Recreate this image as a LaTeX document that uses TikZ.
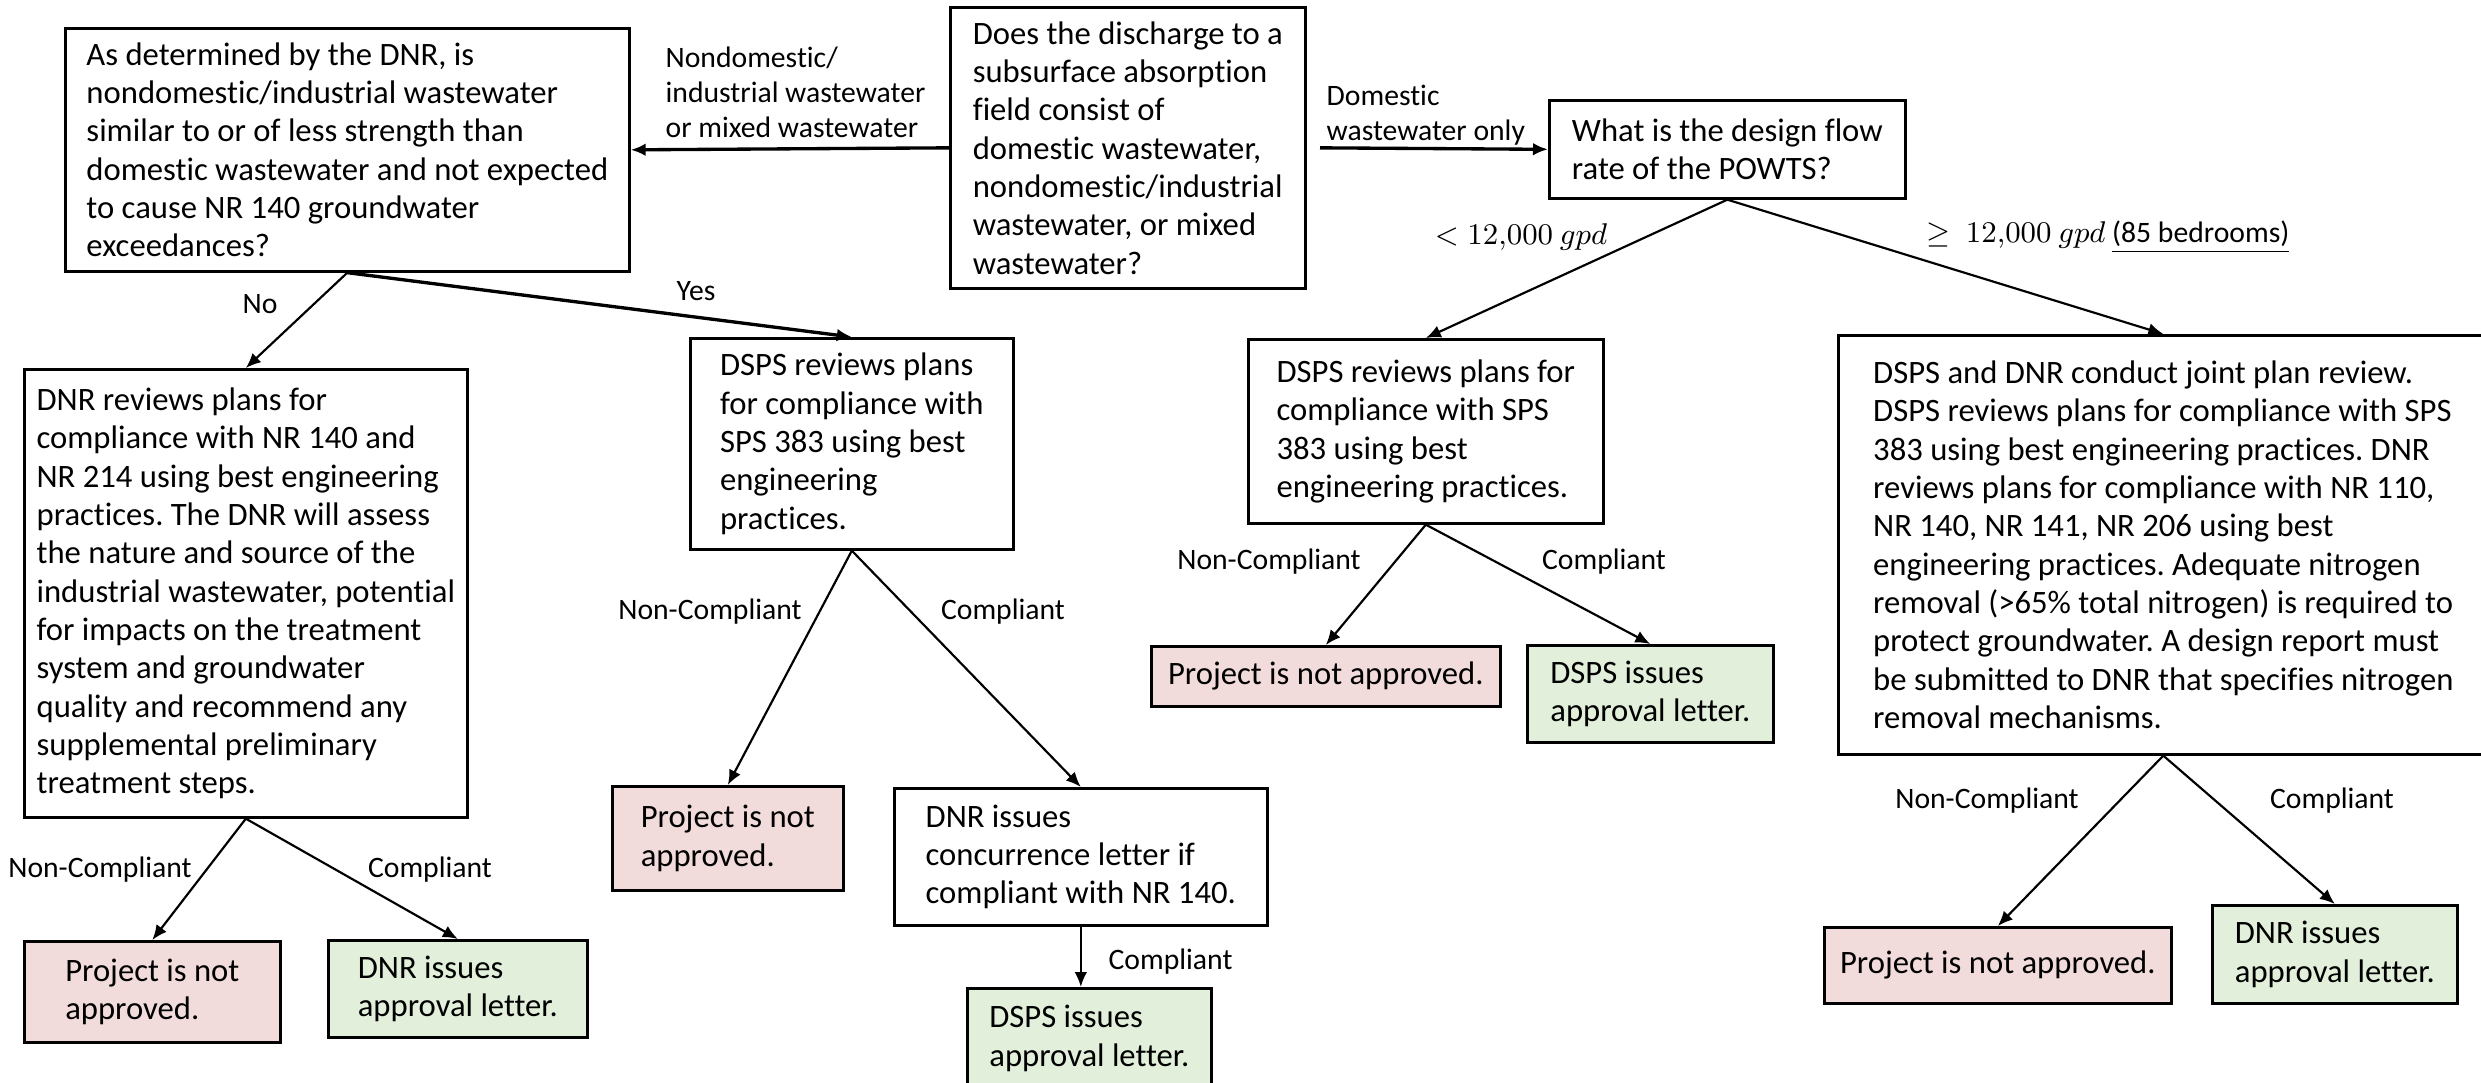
\documentclass[tikz,border=0pt]{standalone}
\usepackage{fontspec}
\setmainfont{Carlito}[Ligatures=NoCommon]
\usetikzlibrary{arrows.meta}
\frenchspacing

\definecolor{nogofill}{RGB}{242,220,219}
\definecolor{okfill}{RGB}{226,239,218}
\newcommand\boxfont{\fontsize{9.8}{11.5}\selectfont}
\newcommand\lblfont{\fontsize{8.9}{10.5}\selectfont}

\tikzset{
  box/.style={draw, line width=0.8pt, align=left, inner sep=1pt, anchor=north west, font=\boxfont},
  nogo/.style={box, fill=nogofill},
  okbox/.style={box, fill=okfill},
  flow/.style={-{Latex[length=4.5pt,width=3.8pt]}, line width=0.65pt},
  mainflow/.style={flow, line width=1pt},
  lbl/.style={font=\lblfont, inner sep=0pt}
}

\begin{document}
\begin{tikzpicture}[x=0.3pt,y=0.3pt,yscale=-1,xscale=1]
\useasboundingbox (0,0) rectangle (2481,1083);

%Shape: Rectangle
\node[box, minimum width=106.5pt, minimum height=84.3pt] (qdis) at (949,6)
  {Does the discharge to a\\subsurface absorption\\field consist of\\domestic wastewater,\\nondomestic/industrial\\wastewater, or mixed\\wastewater?};
%Shape: Rectangle
\node[box, minimum width=169.2pt, minimum height=72.9pt] (qdnr) at (64,27)
  {As determined by the DNR, is\\nondomestic/industrial wastewater\\similar to or of less strength than\\domestic wastewater and not expected\\to cause NR 140 groundwater\\exceedances?};
%Shape: Rectangle
\node[box, minimum width=106.8pt, minimum height=29.4pt] (qflow) at (1548,99)
  {What is the design flow\\rate of the POWTS?};
%Shape: Rectangle
\node[box, minimum width=132.9pt, minimum height=134.4pt] (dnrrev) at (23,368)
  {DNR reviews plans for\\compliance with NR 140 and\\NR 214 using best engineering\\practices. The DNR will assess\\the nature and source of the\\industrial wastewater, potential\\for impacts on the treatment\\system and groundwater\\quality and recommend any\\supplemental preliminary\\treatment steps.};
%Shape: Rectangle
\node[box, minimum width=96.9pt, minimum height=63.3pt] (dspsrevA) at (689,337)
  {DSPS reviews plans\\for compliance with\\SPS 383 using best\\engineering\\practices.};
%Shape: Rectangle
\node[box, minimum width=106.5pt, minimum height=55.2pt] (dspsrevB) at (1247,338)
  {DSPS reviews plans for\\compliance with SPS\\383 using best\\engineering practices.};
%Shape: Rectangle
\node[box, minimum width=195pt, minimum height=125.7pt] (joint) at (1837,334)
  {DSPS and DNR conduct joint plan review.\\DSPS reviews plans for compliance with SPS\\383 using best engineering practices. DNR\\reviews plans for compliance with NR 110,\\NR 140, NR 141, NR 206 using best\\engineering practices. Adequate nitrogen\\removal (>65\% total nitrogen) is required to\\protect groundwater. A design report must\\be submitted to DNR that specifies nitrogen\\removal mechanisms.};

%Shape: Rectangle
\node[nogo, minimum width=76.8pt, minimum height=30.3pt] (nogoB) at (23,940) {Project is not\\approved.};
\node[okbox, minimum width=77.7pt, minimum height=29.1pt] (okB) at (327,939) {DNR issues\\approval letter.};
\node[nogo, minimum width=69.3pt, minimum height=31.2pt] (nogoC) at (611,785) {Project is not\\approved.};
\node[box, minimum width=111.9pt, minimum height=41.1pt] (concur) at (893,787)
  {DNR issues\\concurrence letter if\\compliant with NR 140.};
\node[okbox, minimum width=73.2pt, minimum height=30pt] (okC) at (966,987) {DSPS issues\\approval letter.};
\node[nogo, minimum width=104.7pt, minimum height=18pt] (nogoD) at (1150,645) {Project is not approved.};
\node[okbox, minimum width=73.8pt, minimum height=29.1pt] (okD) at (1526,644) {DSPS issues\\approval letter.};
\node[nogo, minimum width=104.1pt, minimum height=22.8pt] (nogoE) at (1823,926) {Project is not approved.};
\node[okbox, minimum width=73.5pt, minimum height=29.4pt] (okE) at (2211,904) {DNR issues\\approval letter.};

%Straight Lines
\draw[mainflow] (qdis.west) -- (qdnr.east);
\draw[mainflow] ([xshift=4pt]qdis.east) -- (qflow.west);
\draw[flow] (qdnr.south) -- (dnrrev.north);
\draw[mainflow] (qdnr.south) -- (dspsrevA.north);
\draw[flow] (dnrrev.south) -- (nogoB.north);
\draw[flow] (dnrrev.south) -- (okB.north);
\draw[flow] (dspsrevA.south) -- (nogoC.north);
\draw[flow] (dspsrevA.south) -- (concur.north);
\draw[flow] (concur.south) -- (concur.south |- okC.north);
\draw[flow] (qflow.south) -- (dspsrevB.north);
\draw[flow] (qflow.south) -- (joint.north);
\draw[flow] (dspsrevB.south) -- (nogoD.north);
\draw[flow] (dspsrevB.south) -- (okD.north);
\draw[flow] (joint.south) -- (nogoE.north);
\draw[flow] (joint.south) -- (okE.north);

% Text Node
\node[lbl, anchor=west, align=left] (lnondom) at (665,92) {Nondomestic/\\industrial wastewater\\or mixed wastewater};
\node[lbl, anchor=west, align=left] (ldom) at (1326,115) {Domestic\\wastewater only};
\node[lbl] (lno) at (260,304) {No};
\node[lbl] (lyes) at (696,291) {Yes};
\node[lbl] (llow) at (1521,237) {$<12{,}000\ gpd$};
\node[lbl] (lhigh) at (2108,237) {$\geq\ 12{,}000\ gpd$ \underline{(85 bedrooms)}};
\node[lbl] (lncB) at (100,870) {Non-Compliant};
\node[lbl] (lcB) at (430,870) {Compliant};
\node[lbl] (lncC) at (710,612) {Non-Compliant};
\node[lbl] (lcC) at (1003,612) {Compliant};
\node[lbl, anchor=west] (lcConc) at (1108,962) {Compliant};
\node[lbl] (lncD) at (1269,562) {Non-Compliant};
\node[lbl] (lcD) at (1604,562) {Compliant};
\node[lbl] (lncE) at (1987,801) {Non-Compliant};
\node[lbl] (lcE) at (2332,801) {Compliant};

\end{tikzpicture}
\end{document}
